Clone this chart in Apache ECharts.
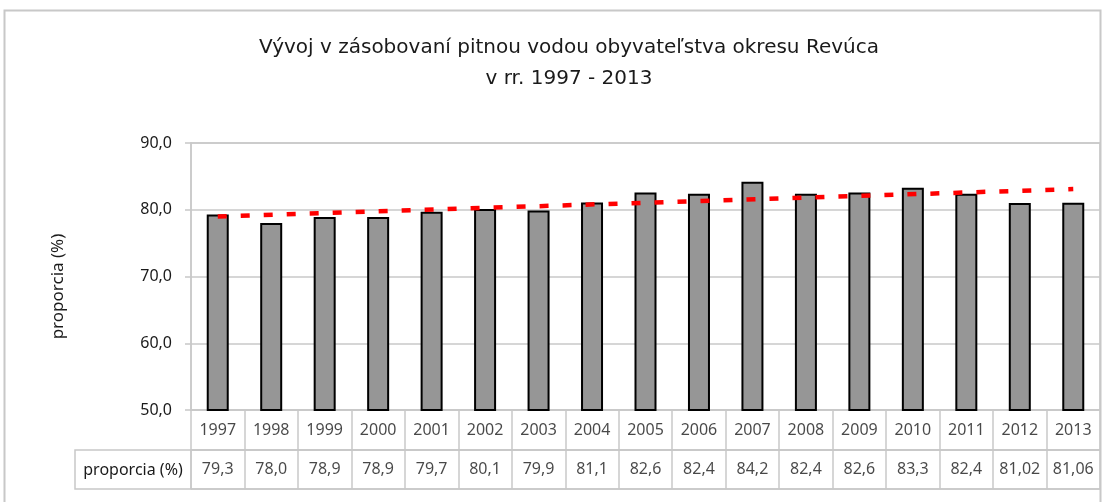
<!DOCTYPE html>
<html>
<head>
<meta charset="utf-8">
<script src="https://cdn.jsdelivr.net/npm/echarts@6/dist/echarts.min.js"></script>
<style>
  html, body { margin: 0; padding: 0; background: #fff; }
  #chart { width: 1104px; height: 502px; }
</style>
</head>
<body>
<div id="chart"></div>
<script>
const years = ['1997', '1998', '1999', '2000', '2001', '2002', '2003', '2004', '2005',
  '2006', '2007', '2008', '2009', '2010', '2011', '2012', '2013'];
const proporcia = [79.3, 78.0, 78.9, 78.9, 79.7, 80.1, 79.9, 81.1, 82.6,
  82.4, 84.2, 82.4, 82.6, 83.3, 82.4, 81.02, 81.06];
// linear trend, read at the first and last year
const trendEnds = [79.0, 83.1];
const yTicks = [50, 60, 70, 80, 90];

const font = 'Noto Sans';
const gridColor = '#c8c8c8';
const textColor = '#1a1a1a';

function fmt(v) {
  const s = String(v).indexOf('.') >= 0 ? String(v) : v.toFixed(1);
  return s.replace('.', ',');
}

const chart = echarts.init(document.getElementById('chart'));

const plotLeft = 191;
const plotRight = 4;

const tableAxis = (gridIndex) => ({
  type: 'category',
  gridIndex: gridIndex,
  data: years,
  boundaryGap: true,
  axisLine: { show: true, lineStyle: { color: gridColor, width: 1.5 } },
  axisTick: { show: false },
  axisLabel: { show: false },
  splitLine: { show: true, lineStyle: { color: gridColor, width: 1.5 } }
});

const tableYAxis = (gridIndex) => ({
  type: 'value',
  gridIndex: gridIndex,
  min: 0,
  max: 1,
  interval: 1,
  axisLine: { show: false },
  axisTick: { show: false },
  axisLabel: { show: false },
  splitLine: { show: true, lineStyle: { color: gridColor, width: 1.5 } }
});

const cellLabel = (formatter) => ({
  show: true,
  position: 'inside',
  fontFamily: font,
  fontSize: 16,
  color: textColor,
  formatter: formatter
});

const option = {
  backgroundColor: '#fff',
  animation: false,
  title: {
    text: 'Vývoj v zásobovaní pitnou vodou obyvateľstva okresu Revúca\nv rr. 1997 - 2013',
    left: 564,
    textAlign: 'center',
    top: 27,
    textStyle: {
      fontFamily: 'DejaVu Sans',
      fontWeight: 'normal',
      fontSize: 20,
      lineHeight: 31,
      color: textColor
    }
  },
  graphic: [
    {
      type: 'rect',
      shape: { x: 4.5, y: 10.5, width: 1096, height: 520 },
      style: { fill: 'none', stroke: '#c8c8c8', lineWidth: 2 },
      silent: true
    },
    {
      type: 'rect',
      shape: { x: 75, y: 450, width: plotLeft - 75, height: 39 },
      style: { fill: 'none', stroke: gridColor, lineWidth: 1.5 },
      silent: true
    },
    {
      type: 'text',
      x: (75 + plotLeft) / 2,
      y: 470,
      style: {
        text: 'proporcia (%)',
        fontFamily: font,
        fontSize: 16,
        fill: textColor,
        align: 'center',
        verticalAlign: 'middle'
      },
      silent: true
    }
  ],
  grid: [
    {
      left: plotLeft, right: plotRight, top: 143, height: 267,
      show: true, borderColor: gridColor, borderWidth: 1.5
    },
    { left: plotLeft, right: plotRight, top: 410, height: 40 },
    { left: plotLeft, right: plotRight, top: 450, height: 39 }
  ],
  xAxis: [
    {
      type: 'category',
      gridIndex: 0,
      data: years,
      axisLine: { show: false },
      axisTick: { show: false },
      axisLabel: { show: false },
      splitLine: { show: false }
    },
    {
      type: 'value',
      gridIndex: 0,
      min: -0.5,
      max: years.length - 0.5,
      show: false
    },
    tableAxis(1),
    tableAxis(2)
  ],
  yAxis: [
    {
      type: 'value',
      gridIndex: 0,
      min: yTicks[0],
      max: yTicks[yTicks.length - 1],
      interval: 10,
      name: 'proporcia (%)',
      nameLocation: 'middle',
      nameGap: 124,
      nameTextStyle: { fontFamily: font, fontSize: 17, color: textColor, padding: [0, 20, 0, 0] },
      axisLine: { show: true, onZero: false, lineStyle: { color: gridColor, width: 1.5 } },
      axisTick: { show: true, length: 6, lineStyle: { color: gridColor, width: 1.5 } },
      axisLabel: {
        fontFamily: font,
        fontSize: 16,
        color: textColor,
        margin: 19,
        formatter: (v) => v.toFixed(1).replace('.', ',')
      },
      splitLine: { show: true, lineStyle: { color: gridColor, width: 1.5 } }
    },
    tableYAxis(1),
    tableYAxis(2)
  ],
  series: [
    {
      name: 'proporcia (%)',
      type: 'bar',
      xAxisIndex: 0,
      yAxisIndex: 0,
      data: proporcia,
      barWidth: 22,
      itemStyle: { color: '#969696', borderColor: '#000', borderWidth: 2 }
    },
    {
      name: 'trend',
      type: 'line',
      xAxisIndex: 1,
      yAxisIndex: 0,
      data: [[0, trendEnds[0]], [years.length - 1, trendEnds[1]]],
      symbol: 'none',
      lineStyle: { color: '#ff0000', width: 4.5, type: [9, 14] },
      z: 5
    },
    {
      type: 'scatter',
      xAxisIndex: 2,
      yAxisIndex: 1,
      data: years.map((y) => [y, 0.5]),
      symbolSize: 1,
      itemStyle: { color: 'rgba(0,0,0,0)' },
      label: cellLabel((p) => p.value[0])
    },
    {
      type: 'scatter',
      xAxisIndex: 3,
      yAxisIndex: 2,
      data: years.map((y, i) => [y, 0.5, proporcia[i]]),
      symbolSize: 1,
      itemStyle: { color: 'rgba(0,0,0,0)' },
      label: cellLabel((p) => fmt(p.value[2]))
    }
  ]
};

chart.setOption(option);
</script>
</body>
</html>
